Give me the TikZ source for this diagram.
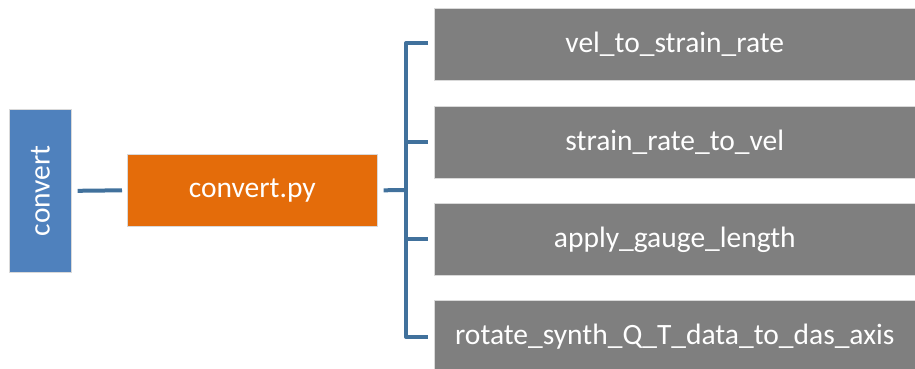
\documentclass[tikz,border=0pt]{standalone}
\usepackage{fontspec}
\setmainfont{Carlito}
\definecolor{rootblue}{HTML}{4F81BD}
\definecolor{linkblue}{HTML}{41719C}
\definecolor{fileorange}{HTML}{E46C0A}
\definecolor{funcgray}{HTML}{7F7F7F}
\begin{document}
\begin{tikzpicture}[x=1pt,y=-1pt,
  label text/.style={text=white,font=\fontsize{29.5}{34}\selectfont},
  box/.style={draw=white!85!black,line width=0.6pt,inner sep=0pt,label text},
  link/.style={draw=linkblue,line width=4pt},
  funcbox/.style={box,fill=funcgray,minimum width=481pt,minimum height=72pt,anchor=north west}]
\useasboundingbox (0,0) rectangle (915,368);
% root module
\node[box,fill=rootblue,minimum width=62pt,minimum height=163pt,anchor=north west] (root) at (9,109) {};
\node[label text,rotate=90] (rootlabel) at (root.center) {convert};
% file
\node[box,fill=fileorange,minimum width=250pt,minimum height=72pt,anchor=north west] (file) at (127,154) {convert.py};
% functions
\node[funcbox] (f1) at (434,8) {vel\_to\_strain\_rate};
\node[funcbox] (f2) at (434,106) {strain\_rate\_to\_vel};
\node[funcbox] (f3) at (434,203) {apply\_gauge\_length};
\node[funcbox] (f4) at (434,300) {rotate\_synth\_Q\_T\_data\_to\_das\_axis};
% connectors
\coordinate (rootR) at ([xshift=6pt]root.east);
\coordinate (fileL) at ([xshift=-5pt]file.west);
\draw[link] (rootR) -- (fileL);
\coordinate (fileR) at ([xshift=6pt]file.east);
\coordinate (bus) at (406,190);
\draw[link] (fileR) -- (bus);
\coordinate (t1) at (428,43);
\coordinate (t2) at (428,142);
\coordinate (t3) at (428,239);
\coordinate (t4) at (428,337);
\draw[link,line join=round] (t1) -| (406,337) -- (t4);
\draw[link] (406,142) -- (t2);
\draw[link] (406,239) -- (t3);
\end{tikzpicture}
\end{document}
